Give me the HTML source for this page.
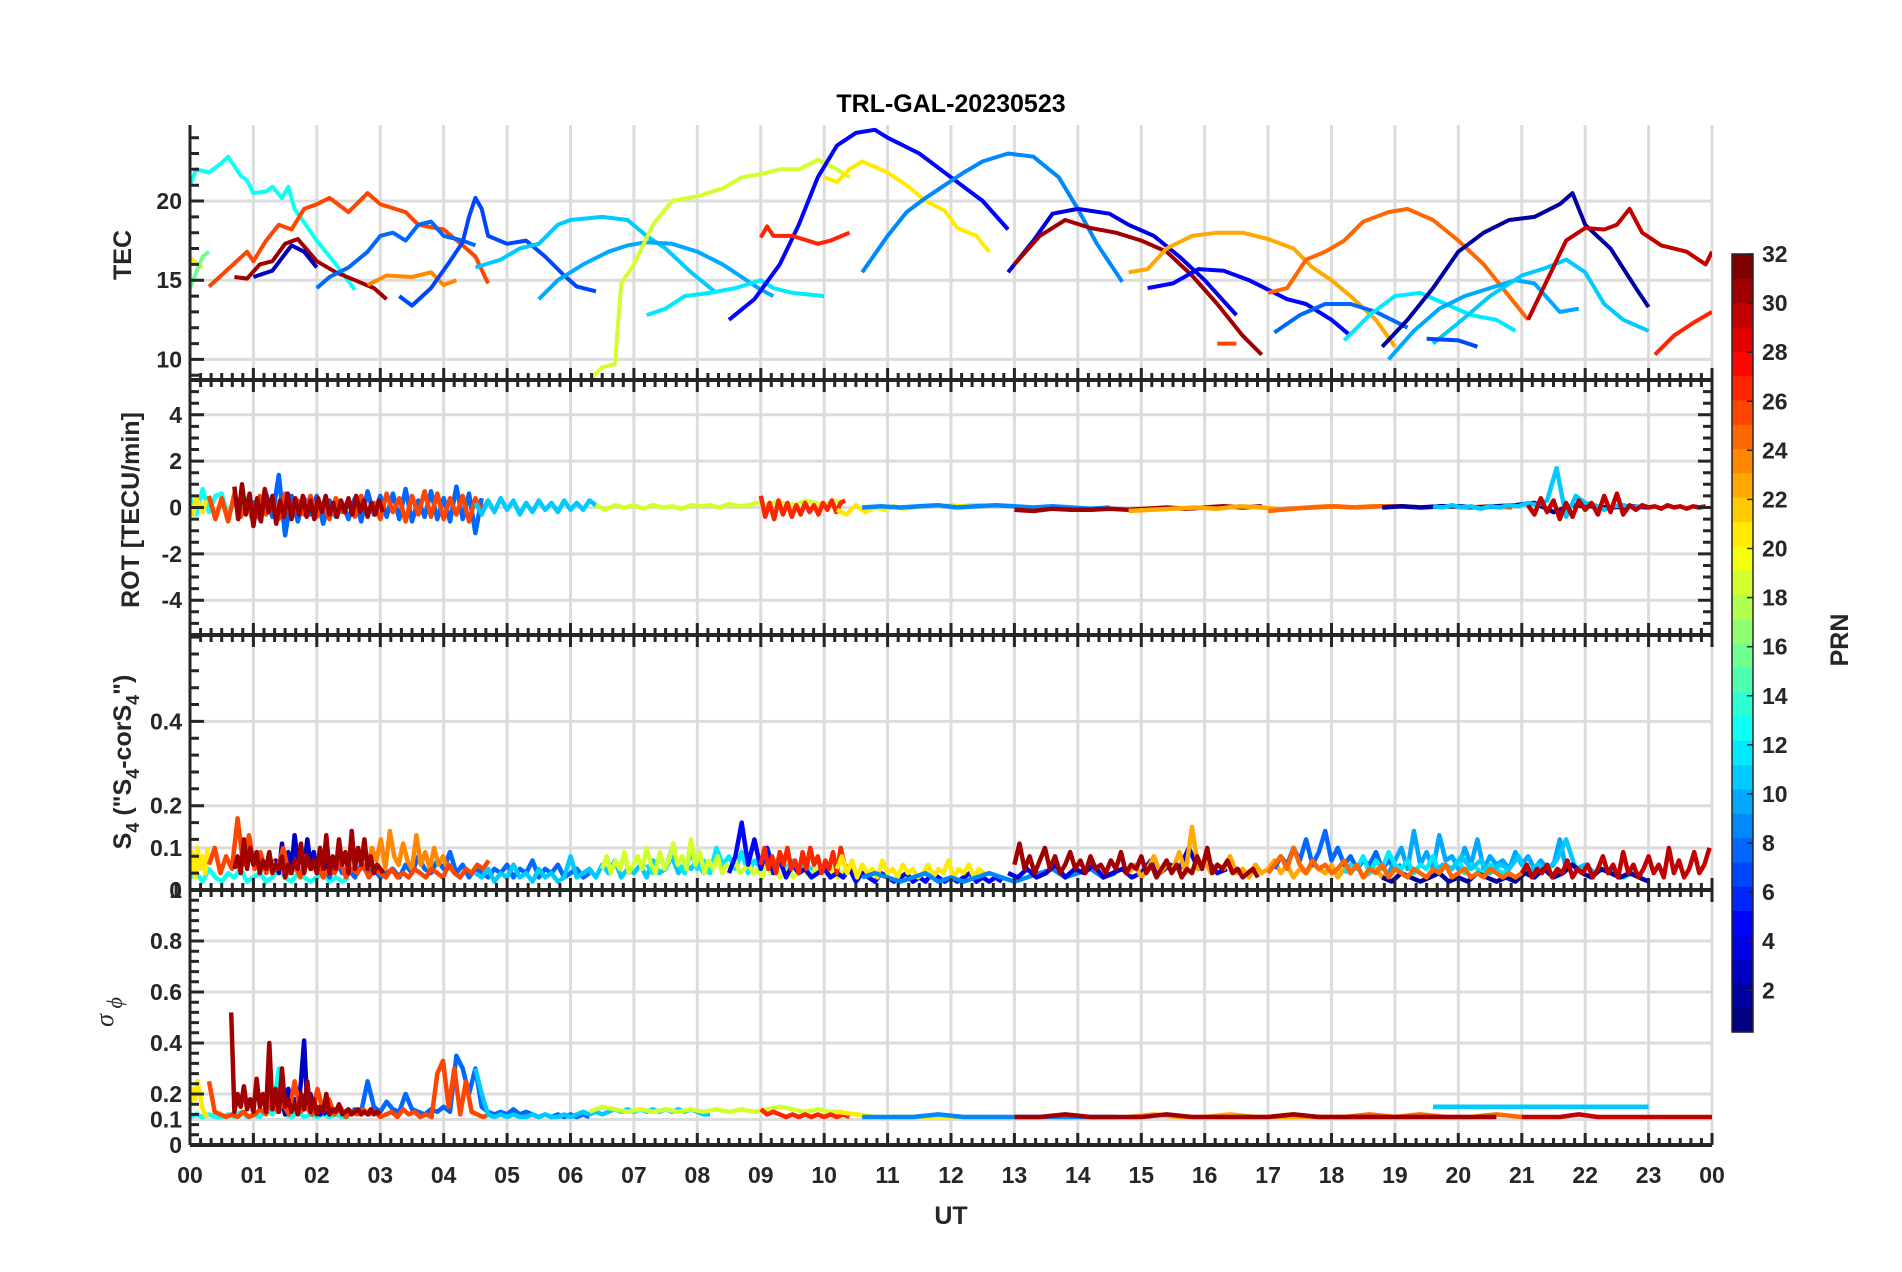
<!DOCTYPE html>
<html><head><meta charset="utf-8"><style>
html,body{margin:0;padding:0;background:#fff;}
svg{display:block;font-family:"Liberation Sans",Arial,sans-serif;}
</style></head><body>
<svg id="fig" width="1902" height="1272" viewBox="0 0 1902 1272" xmlns="http://www.w3.org/2000/svg">
<rect width="1902" height="1272" fill="#fff"/>
<g id="grid"></g>
<g id="data"></g>
<g id="axes"></g>
<text x="951" y="112" text-anchor="middle" font-size="25" font-weight="bold" fill="#000">TRL-GAL-20230523</text>
<text x="951" y="1224" text-anchor="middle" font-size="25" font-weight="bold" fill="#262626">UT</text>
<text transform="translate(131,255) rotate(-90)" text-anchor="middle" font-size="25" font-weight="bold" fill="#262626">TEC</text>
<text transform="translate(139,510) rotate(-90)" text-anchor="middle" font-size="25" font-weight="bold" fill="#262626">ROT [TECU/min]</text>
<text transform="translate(131,762) rotate(-90)" text-anchor="middle" font-size="25" font-weight="bold" fill="#262626">S<tspan font-size="18" dy="8">4</tspan><tspan dy="-8"> ("S</tspan><tspan font-size="18" dy="8">4</tspan><tspan dy="-8">-corS</tspan><tspan font-size="18" dy="8">4</tspan><tspan dy="-8">")</tspan></text>
<text transform="translate(113,1012) rotate(-90)" text-anchor="middle" font-size="26" font-style="italic" font-family="Liberation Serif, serif" fill="#262626">σ<tspan font-size="22" dy="9"> ϕ</tspan></text>
<g id="cbar"></g>
<text transform="translate(1848,640) rotate(-90)" text-anchor="middle" font-size="25" font-weight="bold" fill="#262626">PRN</text>
</svg>
<script>
// ---------- data (hour, value) ----------
const xTickLabels = ["00","01","02","03","04","05","06","07","08","09","10","11","12","13","14","15","16","17","18","19","20","21","22","23","00"];
const tecTicks = [10,15,20];
const rotTicks = [-4,-2,0,2,4];
const s4Ticks = [0,0.1,0.2,0.4];
const sigTicks = [0,0.1,0.2,0.4,0.6,0.8,1];
const cbarTicks = [2,4,6,8,10,12,14,16,18,20,22,24,26,28,30,32];

const tecArcs = [
 {prn:13, pts:[[0,21],[0.1,22],[0.3,21.8],[0.5,22.4],[0.6,22.8],[0.8,21.6],[0.9,21.3],[1.0,20.5],[1.2,20.6],[1.3,20.9],[1.45,20.2],[1.55,20.9],[1.65,19.5],[2.0,17.5],[2.3,16],[2.6,14.4]]},
 {prn:21, pts:[[0,16.4],[0.2,15.8]]},
 {prn:16, pts:[[0,14.5],[0.1,15.5],[0.2,16.5],[0.3,16.8]]},
 {prn:26, pts:[[0.3,14.6],[0.6,15.7],[0.9,16.8],[1.0,16.2],[1.2,17.5],[1.4,18.5],[1.6,18.2],[1.8,19.5],[2.0,19.8],[2.2,20.2],[2.5,19.3],[2.8,20.5],[3.0,19.8],[3.4,19.3],[3.6,18.5],[4.0,18.2],[4.3,17.2],[4.5,16.5],[4.7,14.8]]},
 {prn:31, pts:[[0.7,15.2],[0.9,15.1],[1.1,16],[1.3,16.2],[1.5,17.3],[1.7,17.6],[2.0,16.2],[2.3,15.5],[2.6,15],[2.9,14.5],[3.1,13.8]]},
 {prn:3, pts:[[1.0,15.2],[1.3,15.6],[1.6,17.2],[1.8,16.8],[2.0,15.8]]},
 {prn:8, pts:[[2.0,14.5],[2.2,15.2],[2.5,15.8],[2.8,16.8],[3.0,17.8],[3.2,18],[3.4,17.5],[3.6,18.5],[3.8,18.7],[4.0,17.8],[4.3,17.5],[4.5,17.2]]},
 {prn:24, pts:[[2.8,14.7],[3.1,15.3],[3.5,15.2],[3.8,15.5],[4.0,14.7],[4.2,15]]},
 {prn:7, pts:[[3.3,14],[3.5,13.4],[3.8,14.5],[4.1,16.2],[4.3,17.4],[4.4,19],[4.5,20.2],[4.6,19.5],[4.7,17.8],[5.0,17.3],[5.3,17.5],[5.6,16.5],[5.9,15.3],[6.1,14.6],[6.4,14.3]]},
 {prn:11, pts:[[4.5,15.8],[4.9,16.3],[5.2,17],[5.5,17.3],[5.8,18.5],[6.0,18.8],[6.5,19],[6.9,18.8],[7.2,17.8],[7.5,17],[7.9,15.5],[8.3,14.2]]},
 {prn:10, pts:[[5.5,13.8],[5.8,15],[6.2,16],[6.6,16.8],[6.9,17.2],[7.2,17.4],[7.6,17.3],[8.0,16.8],[8.4,16],[8.7,15.2],[9.0,14.4],[9.2,14]]},
 {prn:12, pts:[[7.2,12.8],[7.5,13.2],[7.8,14],[8.2,14.2],[8.6,14.5],[9.0,15],[9.2,14.5],[9.5,14.2],[10.0,14]]},
 {prn:19, pts:[[6.3,8.7],[6.5,9.5],[6.7,9.7],[6.8,14.8],[7.0,16],[7.3,18.5],[7.6,20],[8.0,20.3],[8.4,20.8],[8.7,21.5],[9.0,21.7],[9.3,22],[9.6,22],[9.9,22.6],[10.2,22],[10.4,21.5]]},
 {prn:5, pts:[[8.5,12.5],[8.9,13.8],[9.3,16],[9.6,18.5],[9.9,21.5],[10.2,23.5],[10.5,24.3],[10.8,24.5],[11.0,24],[11.5,23],[12.0,21.5],[12.5,20],[12.9,18.2]]},
 {prn:27, pts:[[9.0,17.7],[9.1,18.4],[9.2,17.8],[9.5,17.8],[9.9,17.3],[10.1,17.5],[10.4,18]]},
 {prn:21, pts:[[10.0,21.5],[10.2,21.2],[10.4,22],[10.6,22.5],[11.0,21.8],[11.3,21],[11.6,20],[11.9,19.4],[12.1,18.3],[12.4,17.8],[12.6,16.8]]},
 {prn:9, pts:[[10.6,15.5],[11.0,17.8],[11.3,19.3],[11.6,20.2],[11.9,21],[12.2,21.8],[12.5,22.5],[12.9,23],[13.3,22.8],[13.7,21.5],[14.0,19.5],[14.3,17.3],[14.7,14.9]]},
 {prn:4, pts:[[12.9,15.5],[13.3,17.5],[13.6,19.2],[14.0,19.5],[14.5,19.2],[14.8,18.5],[15.2,17.8],[15.6,16.5],[16.0,15],[16.5,12.8]]},
 {prn:31, pts:[[13.0,16],[13.4,17.8],[13.8,18.8],[14.2,18.3],[14.6,18],[15.0,17.5],[15.4,16.8],[15.8,15.3],[16.2,13.5],[16.6,11.5],[16.9,10.3]]},
 {prn:23, pts:[[14.8,15.5],[15.1,15.7],[15.4,17],[15.8,17.8],[16.2,18],[16.6,18],[17.0,17.6],[17.4,17],[17.7,15.8],[18.0,15],[18.3,14],[18.7,12.5],[19.0,10.8]]},
 {prn:5, pts:[[15.1,14.5],[15.5,14.8],[15.9,15.7],[16.3,15.6],[16.7,15.0],[17.0,14.4],[17.3,13.8],[17.6,13.5],[18.0,12.5],[18.3,11.5]]},
 {prn:25, pts:[[17.0,14.2],[17.3,14.5],[17.6,16.3],[17.9,16.8],[18.2,17.5],[18.5,18.7],[18.9,19.3],[19.2,19.5],[19.6,18.8],[20.0,17.5],[20.4,16],[20.8,14],[21.1,12.5]]},
 {prn:8, pts:[[17.1,11.7],[17.5,12.8],[17.9,13.5],[18.3,13.5],[18.7,13],[19.2,12]]},
 {prn:12, pts:[[18.2,11.2],[18.6,12.8],[19.0,14],[19.4,14.2],[19.8,13.5],[20.2,12.8],[20.6,12.5],[20.9,11.8]]},
 {prn:2, pts:[[18.8,10.8],[19.2,12.5],[19.6,14.5],[20.0,16.8],[20.4,18],[20.8,18.8],[21.2,19],[21.6,19.8],[21.8,20.5],[22.0,18.5],[22.4,17],[22.8,14.5],[23.0,13.3]]},
 {prn:10, pts:[[18.9,10],[19.3,11.8],[19.7,13.2],[20.1,14],[20.5,14.5],[20.9,15],[21.2,14.8],[21.6,13],[21.9,13.2]]},
 {prn:11, pts:[[19.6,11],[20.0,12.3],[20.5,14],[21.0,15.3],[21.4,15.8],[21.7,16.3],[22.0,15.5],[22.3,13.5],[22.6,12.5],[23.0,11.8]]},
 {prn:7, pts:[[19.5,11.3],[20.0,11.2],[20.3,10.8]]},
 {prn:26, pts:[[16.2,11],[16.5,11]]},
 {prn:30, pts:[[21.1,12.5],[21.4,15],[21.7,17.5],[22.0,18.3],[22.3,18.2],[22.5,18.5],[22.7,19.5],[22.9,18],[23.2,17.2],[23.6,16.8],[23.9,16],[24.0,16.8]]},
 {prn:27, pts:[[23.1,10.3],[23.4,11.5],[23.7,12.3],[24.0,13]]}
];

const rotArcs = [
 {prn:13,t0:0,dt:0.1,v:[0.4,-0.3,0.8,-0.2,0.5,0.6,-0.4,0.3,-0.2,0.4,0.2,-0.3,0.3,-0.2,0.2,0.1,-0.3,0.2,-0.1,0.3,-0.2,0.1,-0.2,0.2,0.1,-0.1]},
 {prn:21,t0:0,dt:0.05,v:[0.2,-0.3,0.4,0.1,-0.2,0.3]},
 {prn:8,t0:1,dt:0.1,v:[0.3,-0.5,0.6,-0.4,1.4,-1.2,0.5,-0.6,0.4,-0.3,0.5,-0.7,0.3,-0.4,0.2,-0.5,0.4,-0.6,0.7,-0.3,0.5,-0.4,0.6,-0.5,0.8,-0.6,0.3,-0.4,0.7,-0.5,0.4,-0.6,0.9,-0.5,0.6,-1.1,0.4]},
 {prn:26,t0:0.3,dt:0.1,v:[0.5,-0.5,0.4,-0.6,0.6,-0.4,0.3,-0.7,0.5,-0.3,0.4,-0.5,0.6,-0.4,0.3,-0.3,0.5,-0.4,0.2,-0.5,0.4,-0.2,0.3,-0.4,0.5,-0.3,0.2,-0.5,0.6,-0.2,0.4,-0.6,0.5,-0.3,0.7,-0.4,0.6,-0.5,0.4,-0.3,0.5,-0.6,0.4,-0.2,0.3]},
 {prn:31,t0:0.7,dt:0.06,v:[0.9,-0.5,1.0,-0.3,0.6,-0.8,0.4,-0.6,0.8,-0.2,0.5,-0.7,0.3,-0.4,0.6,-0.5,0.4,-0.3,0.5,-0.4,0.3,-0.5,0.4,-0.2,0.5,-0.3,0.2,-0.4,0.3,-0.2,0.4,-0.3,0.5,-0.2,0.3,-0.4,0.2,-0.3,0.3,-0.2]},
 {prn:11,t0:4.5,dt:0.1,v:[0.2,-0.3,0.3,-0.2,0.4,-0.1,0.3,-0.3,0.2,-0.2,0.3,-0.1,0.2,-0.2,0.3,-0.1,0.2,-0.1,0.3,0.1]},
 {prn:19,t0:6.4,dt:0.15,v:[0.1,-0.1,0.1,0,0.1,-0.05,0.1,0,0.05,-0.05,0.1,0.05,0.1,0,0.15,0.05,0.1,0.2,0.1,0.25,0.15,0.1,0.3,0.2,0.1,0.3,0.2]},
 {prn:27,t0:9,dt:0.07,v:[0.5,-0.4,0.2,-0.5,0.3,-0.3,0.2,-0.4,0.1,-0.3,0.2,-0.2,0.1,-0.3,0.2,-0.1,0.3,-0.2,0.2,0.3]},
 {prn:21,t0:10.2,dt:0.15,v:[-0.1,-0.3,0.1,-0.2,0,-0.1,0.05,-0.05,0,0.05,0.1,0.05,0.1,0.05,0.1,0.1,0.05]},
 {prn:9,t0:10.6,dt:0.3,v:[0,0.05,0,0.05,0.1,0,0.05,0.1,0.05,0,0.05,0,-0.05,0]},
 {prn:31,t0:13,dt:0.3,v:[-0.1,-0.15,-0.05,-0.1,-0.1,-0.05,-0.1,-0.05,0,-0.05,0,0.05,0,0.05]},
 {prn:23,t0:14.8,dt:0.35,v:[-0.15,-0.1,-0.05,0,-0.05,0.05,0,-0.1,0,0.05,0,0.05,0.05]},
 {prn:25,t0:17,dt:0.35,v:[-0.15,-0.05,0,0.05,0,0.05,0.05,0,0.05,0,0.05,0]},
 {prn:2,t0:18.8,dt:0.3,v:[0,0.05,0,0.05,0.05,0,0.05,0.1,0.2,-0.2,0.1,0.05,0,0.05,0]},
 {prn:11,t0:19.6,dt:0.15,v:[0.05,0,0.1,0,0.05,-0.05,0.05,0,0.1,0.05,0.2,0.1,0.3,1.7,-0.4,0.5,0.2,0.1,-0.1,0.05,0.1,0,0.05]},
 {prn:30,t0:21.1,dt:0.1,v:[0.1,-0.3,0.4,-0.2,0.3,-0.5,0.2,-0.4,0.3,-0.1,0.2,-0.3,0.5,-0.2,0.6,-0.3,0.1,-0.1,0.1,0,0.05,-0.05,0.1,0,0.05,-0.05,0.05,0,0.05]}
];

const s4Arcs = [
 {prn:13,t0:0,dt:0.1,v:[0.03,0.04,0.02,0.05,0.03,0.02,0.04,0.03,0.05,0.02,0.03,0.04,0.02,0.03,0.05,0.03,0.02,0.04,0.03,0.02,0.03,0.04,0.02,0.03,0.02,0.03]},
 {prn:21,t0:0,dt:0.04,v:[0.04,0.09,0.03,0.1,0.05,0.08,0.04,0.1]},
 {prn:8,t0:2,dt:0.1,v:[0.04,0.06,0.03,0.07,0.04,0.05,0.03,0.06,0.04,0.05,0.03,0.04,0.05,0.03,0.06,0.04,0.08,0.05,0.04,0.07,0.05,0.09,0.04,0.06,0.03,0.05,0.04,0.03,0.05,0.04,0.06,0.03,0.05,0.04,0.07,0.03,0.05,0.04,0.06,0.03,0.04,0.05,0.03,0.04]},
 {prn:3,t0:1.3,dt:0.05,v:[0.05,0.07,0.04,0.11,0.06,0.09,0.05,0.13,0.07,0.1,0.05,0.12,0.06,0.09,0.04,0.08,0.05,0.06,0.04,0.05]},
 {prn:24,t0:2.8,dt:0.07,v:[0.06,0.1,0.07,0.12,0.05,0.14,0.08,0.06,0.11,0.07,0.05,0.13,0.06,0.09,0.05,0.1,0.06,0.08,0.05,0.06]},
 {prn:26,t0:0.3,dt:0.09,v:[0.06,0.1,0.04,0.08,0.05,0.17,0.06,0.13,0.05,0.09,0.04,0.07,0.05,0.1,0.04,0.06,0.03,0.08,0.05,0.06,0.03,0.05,0.04,0.07,0.03,0.05,0.04,0.06,0.03,0.05,0.04,0.03,0.05,0.03,0.04,0.03,0.05,0.04,0.03,0.05,0.04,0.03,0.06,0.04,0.03,0.05,0.04,0.06,0.05,0.07]},
 {prn:31,t0:0.7,dt:0.05,v:[0.05,0.08,0.04,0.12,0.05,0.1,0.06,0.09,0.04,0.07,0.05,0.09,0.04,0.06,0.05,0.08,0.03,0.06,0.04,0.07,0.05,0.11,0.04,0.08,0.05,0.07,0.04,0.1,0.05,0.13,0.04,0.08,0.05,0.12,0.06,0.09,0.04,0.14,0.05,0.1,0.06,0.12,0.05,0.08,0.04,0.06,0.05,0.04]},
 {prn:11,t0:4.5,dt:0.1,v:[0.04,0.03,0.05,0.02,0.04,0.03,0.06,0.03,0.04,0.02,0.05,0.03,0.04,0.02,0.03,0.08,0.03,0.04,0.05,0.03,0.06,0.04,0.07,0.03,0.05,0.04,0.06,0.03,0.07,0.04,0.05,0.08,0.04,0.06,0.05,0.07,0.04,0.05]},
 {prn:12,t0:7.2,dt:0.1,v:[0.06,0.04,0.08,0.05,0.1,0.06,0.04,0.09,0.05,0.07,0.04,0.1,0.06,0.08,0.05,0.09,0.04,0.07,0.05,0.1,0.06,0.08,0.05,0.07,0.04,0.06,0.05,0.04]},
 {prn:19,t0:6.5,dt:0.07,v:[0.05,0.08,0.04,0.07,0.05,0.09,0.04,0.06,0.08,0.05,0.1,0.06,0.04,0.09,0.05,0.07,0.11,0.06,0.08,0.05,0.12,0.06,0.09,0.04,0.07,0.05,0.08,0.04,0.06,0.05,0.07,0.04,0.05,0.06,0.04,0.05,0.03,0.06,0.04,0.05,0.03,0.04,0.05,0.03,0.04,0.05,0.04,0.03,0.05,0.04,0.06,0.04,0.05,0.03,0.04,0.05]},
 {prn:5,t0:8.5,dt:0.1,v:[0.04,0.08,0.16,0.06,0.12,0.05,0.1,0.04,0.07,0.03,0.06,0.04,0.05,0.03,0.04,0.05,0.03,0.04,0.03,0.05,0.02,0.04,0.03,0.02,0.04,0.03,0.02,0.03,0.04,0.02,0.03,0.02,0.04,0.03,0.02,0.03,0.02,0.03,0.04,0.02,0.03,0.02,0.03,0.02]},
 {prn:27,t0:9,dt:0.06,v:[0.06,0.1,0.05,0.08,0.04,0.09,0.06,0.1,0.05,0.07,0.04,0.09,0.05,0.1,0.06,0.08,0.04,0.07,0.05,0.09,0.04,0.1,0.06,0.05]},
 {prn:21,t0:10.2,dt:0.08,v:[0.05,0.08,0.04,0.07,0.03,0.06,0.04,0.05,0.03,0.07,0.04,0.05,0.03,0.06,0.04,0.05,0.03,0.04,0.06,0.03,0.05,0.04,0.07,0.03,0.05,0.04,0.06,0.03,0.05,0.04]},
 {prn:9,t0:10.6,dt:0.2,v:[0.03,0.04,0.03,0.02,0.03,0.04,0.02,0.03,0.02,0.03,0.04,0.03,0.02,0.03,0.04,0.05,0.03,0.04,0.05,0.03,0.04]},
 {prn:4,t0:12.9,dt:0.15,v:[0.04,0.03,0.05,0.03,0.04,0.06,0.03,0.05,0.04,0.06,0.03,0.04,0.05,0.03,0.04,0.07,0.04,0.06,0.05,0.1,0.05,0.07,0.04,0.05]},
 {prn:23,t0:14.8,dt:0.1,v:[0.04,0.06,0.03,0.05,0.08,0.04,0.06,0.05,0.09,0.04,0.15,0.05,0.07,0.04,0.06,0.05,0.08,0.04,0.05,0.03,0.06,0.04,0.05,0.07,0.04,0.06,0.03,0.05,0.04,0.06,0.05,0.04,0.06,0.03,0.05,0.04,0.06,0.03,0.04,0.05,0.03,0.04]},
 {prn:8,t0:17.1,dt:0.1,v:[0.05,0.08,0.06,0.1,0.07,0.12,0.06,0.09,0.14,0.07,0.1,0.06,0.08,0.05,0.07,0.06,0.09,0.05,0.07,0.05,0.06]},
 {prn:10,t0:18.9,dt:0.1,v:[0.04,0.07,0.1,0.05,0.14,0.06,0.09,0.05,0.13,0.07,0.08,0.05,0.1,0.06,0.12,0.05,0.08,0.06,0.07,0.05,0.09,0.06,0.08,0.05,0.07,0.05,0.06,0.12,0.05,0.06]},
 {prn:12,t0:18.2,dt:0.1,v:[0.04,0.06,0.05,0.08,0.04,0.07,0.05,0.09,0.06,0.05,0.07,0.04,0.06,0.05,0.08,0.04,0.06,0.05,0.07,0.04,0.06,0.05,0.04,0.06,0.05,0.04,0.05]},
 {prn:11,t0:19.6,dt:0.15,v:[0.04,0.06,0.05,0.08,0.05,0.07,0.04,0.06,0.05,0.08,0.04,0.06,0.05,0.07,0.12,0.05,0.06,0.04,0.05,0.04,0.03,0.04,0.03]},
 {prn:2,t0:18.8,dt:0.15,v:[0.03,0.02,0.04,0.03,0.02,0.03,0.04,0.02,0.03,0.02,0.04,0.03,0.02,0.03,0.02,0.04,0.03,0.05,0.03,0.04,0.06,0.04,0.03,0.05,0.04,0.03,0.04,0.03,0.02]},
 {prn:25,t0:17,dt:0.1,v:[0.04,0.06,0.08,0.05,0.1,0.06,0.04,0.07,0.05,0.06,0.04,0.05,0.07,0.04,0.06,0.03,0.05,0.04,0.06,0.03,0.05,0.04,0.03,0.05,0.04,0.03,0.05,0.04,0.06,0.03,0.04,0.05,0.03,0.04,0.03,0.05,0.04,0.03,0.04,0.03,0.04]},
 {prn:31,t0:13,dt:0.08,v:[0.06,0.11,0.05,0.08,0.04,0.07,0.1,0.05,0.08,0.04,0.06,0.09,0.05,0.07,0.04,0.08,0.05,0.06,0.04,0.07,0.05,0.09,0.04,0.06,0.05,0.08,0.04,0.06,0.03,0.05,0.07,0.04,0.06,0.03,0.05,0.04,0.08,0.05,0.1,0.04,0.06,0.05,0.07,0.04,0.05,0.03,0.04,0.05,0.03]},
 {prn:30,t0:21,dt:0.08,v:[0.04,0.06,0.03,0.05,0.04,0.06,0.03,0.05,0.04,0.07,0.03,0.05,0.04,0.06,0.03,0.05,0.08,0.04,0.06,0.03,0.09,0.04,0.06,0.03,0.05,0.08,0.04,0.06,0.03,0.1,0.04,0.07,0.03,0.05,0.09,0.04,0.06,0.1]}
];

const sigArcs = [
 {prn:13,t0:0,dt:0.1,v:[0.11,0.12,0.11,0.12,0.11,0.11,0.12,0.11,0.13,0.11,0.12,0.11,0.14,0.12,0.3,0.12,0.11,0.13,0.11,0.12,0.11,0.12,0.11,0.12,0.11,0.11]},
 {prn:21,t0:0,dt:0.04,v:[0.15,0.22,0.18,0.25,0.2,0.14,0.12,0.11]},
 {prn:8,t0:2,dt:0.1,v:[0.13,0.15,0.12,0.14,0.13,0.12,0.14,0.13,0.25,0.15,0.13,0.17,0.14,0.13,0.2,0.14,0.13,0.12,0.14,0.13,0.15,0.13,0.35,0.3,0.2,0.3,0.15,0.13,0.12,0.13,0.12,0.14,0.12,0.13,0.12,0.11,0.12,0.11,0.12,0.11,0.12,0.11,0.12,0.11]},
 {prn:3,t0:1.2,dt:0.05,v:[0.14,0.34,0.15,0.2,0.13,0.17,0.12,0.22,0.14,0.18,0.13,0.25,0.41,0.15,0.2,0.13,0.15,0.12,0.13,0.12]},
 {prn:26,t0:0.3,dt:0.09,v:[0.25,0.13,0.12,0.11,0.12,0.11,0.13,0.11,0.12,0.14,0.12,0.2,0.13,0.16,0.12,0.25,0.13,0.15,0.12,0.22,0.13,0.18,0.12,0.15,0.11,0.13,0.12,0.14,0.12,0.13,0.11,0.12,0.13,0.11,0.14,0.12,0.13,0.11,0.12,0.11,0.28,0.33,0.15,0.3,0.12,0.25,0.13,0.12,0.11,0.12]},
 {prn:31,t0:0.65,dt:0.05,v:[0.52,0.13,0.2,0.15,0.23,0.14,0.18,0.13,0.26,0.15,0.2,0.13,0.4,0.14,0.22,0.13,0.3,0.15,0.18,0.13,0.16,0.12,0.2,0.14,0.25,0.13,0.18,0.12,0.15,0.13,0.2,0.12,0.14,0.13,0.16,0.12,0.13,0.14,0.12,0.13,0.14,0.12,0.13,0.12,0.14,0.12,0.13,0.12]},
 {prn:11,t0:4.5,dt:0.1,v:[0.3,0.2,0.12,0.11,0.12,0.11,0.12,0.11,0.11,0.12,0.11,0.12,0.11,0.11,0.12,0.11,0.12,0.13,0.12,0.13,0.12,0.13,0.14,0.13,0.14,0.13,0.14,0.13,0.14,0.13,0.14,0.13,0.14,0.13,0.14,0.13,0.12,0.12]},
 {prn:19,t0:6.3,dt:0.2,v:[0.13,0.15,0.14,0.13,0.14,0.13,0.14,0.13,0.14,0.13,0.14,0.13,0.14,0.13,0.14,0.15,0.14,0.13,0.14,0.13,0.13]},
 {prn:27,t0:9,dt:0.1,v:[0.14,0.12,0.13,0.12,0.11,0.12,0.11,0.12,0.11,0.12,0.11,0.12,0.11,0.12,0.11]},
 {prn:21,t0:10.2,dt:0.3,v:[0.13,0.12,0.11,0.11,0.11,0.11,0.11,0.11,0.11]},
 {prn:9,t0:10.6,dt:0.4,v:[0.11,0.11,0.11,0.12,0.11,0.11,0.11,0.11,0.11,0.11,0.11]},
 {prn:11,t0:19.6,dt:0.34,v:[0.15,0.15,0.15,0.15,0.15,0.15,0.15,0.15,0.15,0.15,0.15]},
 {prn:23,t0:14.8,dt:0.4,v:[0.11,0.12,0.11,0.11,0.12,0.11,0.11,0.11,0.11,0.11,0.11]},
 {prn:25,t0:17,dt:0.4,v:[0.11,0.12,0.11,0.11,0.12,0.11,0.12,0.11,0.11,0.12,0.11]},
 {prn:31,t0:13,dt:0.4,v:[0.11,0.11,0.12,0.11,0.11,0.11,0.12,0.11,0.11,0.11,0.11,0.12,0.11,0.11,0.11,0.11,0.11,0.11,0.11,0.11]},
 {prn:30,t0:21,dt:0.3,v:[0.11,0.11,0.11,0.12,0.11,0.11,0.11,0.11,0.11,0.11,0.11]}
];

// ---------- layout ----------
const NS = "http://www.w3.org/2000/svg";
const L = 190, R = 1712;
const panels = [
 {name:"tec", top:125, bot:380, min:8.7, max:24.8, ticks:tecTicks, minor:1, rightTicks:false, topTicks:false},
 {name:"rot", top:380, bot:635, min:-5.5, max:5.5, ticks:rotTicks, minor:0.5, rightTicks:true, topTicks:true},
 {name:"s4", top:635, bot:890, min:0, max:0.605, ticks:s4Ticks, minor:0.04, rightTicks:false, topTicks:true},
 {name:"sigma", top:890, bot:1145, min:0, max:1, ticks:sigTicks, minor:0.04, rightTicks:false, topTicks:true}
];
const xs = h => L + (R - L) * h / 24;
const ysOf = p => v => p.bot - (p.bot - p.top) * (v - p.min) / (p.max - p.min);

function jet(prn){
  const t = (prn - 1) / 31;
  const c = x => Math.round(255 * Math.max(0, Math.min(1, x)));
  return `rgb(${c(1.5-Math.abs(4*t-3))},${c(1.5-Math.abs(4*t-2))},${c(1.5-Math.abs(4*t-1))})`;
}
function mk(tag, attrs, parent){
  const e = document.createElementNS(NS, tag);
  for (const k in attrs) e.setAttribute(k, attrs[k]);
  parent.appendChild(e);
  return e;
}
const grid = document.getElementById("grid");
const dataG = document.getElementById("data");
const axes = document.getElementById("axes");
const AX = "#262626";

panels.forEach(p => {
  const ys = ysOf(p);
  for (let h = 1; h <= 24; h++) {
    const g = mk("line", {x1:xs(h), x2:xs(h), y1:p.top, y2:p.bot, stroke:"#dcdcdc", "stroke-width":3}, grid);
    
    
  }
  p.ticks.forEach(v => {
    const g = mk("line", {x1:L, x2:R, y1:ys(v), y2:ys(v), stroke:"#dcdcdc", "stroke-width":3}, grid);
    
    
  });
});

function drawPts(p, arcs, width, label){
  const ys = ysOf(p);
  const clip = mk("clipPath", {id:"clip-"+p.name}, dataG);
  mk("rect", {x:L, y:p.top, width:R-L, height:p.bot-p.top}, clip);
  const g = mk("g", {"clip-path":`url(#clip-${p.name})`}, dataG);
  
  
  arcs.forEach(a => {
    const pts = a.pts ? a.pts : a.v.map((v, i) => [a.t0 + i * a.dt, v]);
    const d = pts.map(q => xs(q[0]).toFixed(1) + "," + ys(q[1]).toFixed(1)).join(" ");
    const pl = mk("polyline", {points:d, fill:"none", stroke:jet(a.prn), "stroke-width":width, "stroke-linejoin":"round"}, g);
    
    
  });
}
drawPts(panels[0], tecArcs, 4, "tec-line");
drawPts(panels[1], rotArcs, 4.5, "rot-line");
drawPts(panels[2], s4Arcs, 4.5, "s4-line");
drawPts(panels[3], sigArcs, 4.5, "sigma-line");

// axes
panels.forEach((p, pi) => {
  const ys = ysOf(p);
  const a1 = mk("line", {x1:L, x2:L, y1:p.top, y2:p.bot, stroke:AX, "stroke-width":3}, axes);
  
  
  const a2 = mk("line", {x1:L, x2:R, y1:p.bot, y2:p.bot, stroke:AX, "stroke-width":4}, axes);
  
  
  if (p.rightTicks) {
    const a3 = mk("line", {x1:R, x2:R, y1:p.top, y2:p.bot, stroke:AX, "stroke-width":3}, axes);
    
    
  }
  let d = "";
  for (let m = 0; m <= 144; m++) {
    const x = xs(m / 6).toFixed(1);
    const len = (m % 6 === 0) ? 12 : 7;
    d += `M${x},${p.bot}v${-len}`;
    if (p.topTicks) d += `M${x},${p.top}v${len}`;
  }
  const xt = mk("path", {d:d, stroke:AX, "stroke-width":3, fill:"none"}, axes);
  
  
  let yd = "";
  const n0 = Math.ceil(p.min / p.minor), n1 = Math.floor(p.max / p.minor);
  for (let n = n0; n <= n1; n++) {
    const v = n * p.minor;
    const y = ys(v).toFixed(1);
    const major = p.ticks.some(t => Math.abs(t - v) < 1e-6);
    const len = major ? 14 : 9;
    yd += `M${L},${y}h${len}`;
    if (p.rightTicks) yd += `M${R},${y}h${-len}`;
  }
  const ytk = mk("path", {d:yd, stroke:AX, "stroke-width":3, fill:"none"}, axes);
  
  
  p.ticks.forEach(v => {
    const t = mk("text", {x:L - 8, y:ys(v) + 8, "text-anchor":"end", "font-size":23, "font-weight":"bold", fill:AX}, axes);
    t.textContent = String(v);
    
    
  });
});
xTickLabels.forEach((s, i) => {
  const t = mk("text", {x:xs(i), y:1183, "text-anchor":"middle", "font-size":23, "font-weight":"bold", fill:AX}, axes);
  t.textContent = s;
  
  
});

// colorbar
const cb = document.getElementById("cbar");
const CT = 254, CB = 1032, CL = 1732, CW = 21, cMin = 0.3, cMax = 32;
const cy = v => CB - (CB - CT) * (v - cMin) / (cMax - cMin);
const bandH = (CB - CT) / 32;
for (let k = 1; k <= 32; k++) {
  const r = mk("rect", {x:CL, y:(CB - k * bandH).toFixed(2), width:CW, height:(bandH + 0.6).toFixed(2), fill:jet(k)}, cb);
  
  
}
const frame = mk("rect", {x:CL, y:CT, width:CW, height:CB - CT, fill:"none", stroke:AX, "stroke-width":1.5}, cb);


cbarTicks.forEach(v => {
  const tk = mk("line", {x1:CL + CW - 6, x2:CL + CW, y1:cy(v), y2:cy(v), stroke:AX, "stroke-width":1.5}, cb);
  
  
  const t = mk("text", {x:1762, y:cy(v) + 8, "font-size":23, "font-weight":"bold", fill:AX}, cb);
  t.textContent = String(v);
  
  
});
</script>
</body></html>
